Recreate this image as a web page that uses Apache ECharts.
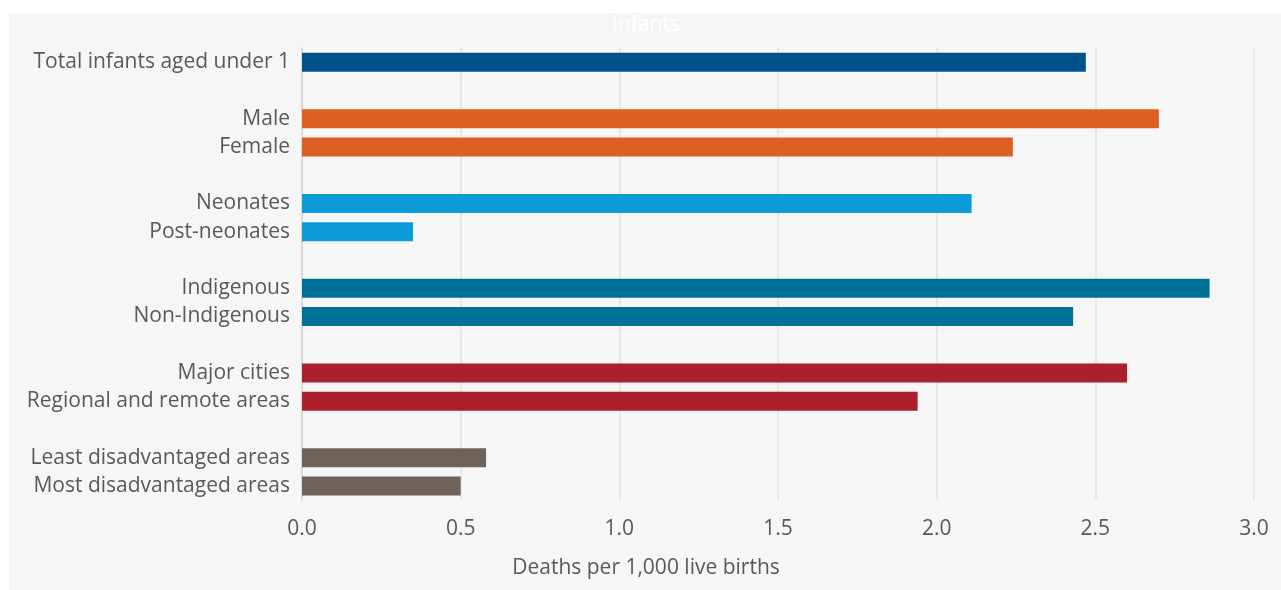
<!DOCTYPE html>
<html>
<head>
<meta charset="utf-8">
<script src="https://cdn.jsdelivr.net/npm/echarts@6/dist/echarts.min.js"></script>
<style>
  html, body { margin: 0; padding: 0; background: #ffffff; }
  #chart { width: 1281px; height: 590px; }
</style>
</head>
<body>
<div id="chart"></div>
<script>
// Infant death rates by population group; blank entries separate the groups
const categories = [
  'Total infants aged under 1', '',
  'Male', 'Female', '',
  'Neonates', 'Post-neonates', '',
  'Indigenous', 'Non-Indigenous', '',
  'Major cities', 'Regional and remote areas', '',
  'Least disadvantaged areas', 'Most disadvantaged areas'
];
const values = [
  2.47, null,
  2.70, 2.24, null,
  2.11, 0.35, null,
  2.86, 2.43, null,
  2.60, 1.94, null,
  0.58, 0.50
];
const groupColors = [
  '#00538a', null,
  '#dc5f23', '#dc5f23', null,
  '#0b9bd8', '#0b9bd8', null,
  '#007196', '#007196', null,
  '#ac1f2c', '#ac1f2c', null,
  '#6e6159', '#6e6159'
];
const xTicks = ['0.0', '0.5', '1.0', '1.5', '2.0', '2.5', '3.0'];
const chartTitle = 'Infants';
const xAxisTitle = 'Deaths per 1,000 live births';

const chart = echarts.init(document.getElementById('chart'), null, { renderer: 'canvas' });
const FONT = '"Open Sans", "Noto Sans", sans-serif';
const TXT = '#595959';

chart.setOption({
  backgroundColor: '#ffffff',
  animation: false,
  graphic: [
    {
      type: 'rect',
      left: 9, top: 13,
      shape: { width: 1272, height: 577 },
      style: { fill: '#f6f6f6' },
      z: -10
    },
    {
      type: 'text',
      x: 646, y: 25,
      style: {
        text: chartTitle, fill: '#ffffff', font: '21px ' + FONT,
        textAlign: 'center', textVerticalAlign: 'middle'
      }
    },
    {
      type: 'text',
      x: 646, y: 568,
      style: {
        text: xAxisTitle, fill: TXT, font: '21px ' + FONT,
        textAlign: 'center', textVerticalAlign: 'middle'
      }
    }
  ],
  grid: { left: 302, right: 27, top: 48, bottom: 90, containLabel: false },
  xAxis: {
    type: 'value',
    min: 0, max: 3, interval: 0.5,
    axisLine: { show: false },
    axisTick: { show: false },
    axisLabel: {
      color: TXT, fontFamily: FONT, fontSize: 21, margin: 19,
      formatter: (v) => xTicks[Math.round(v / 0.5)]
    },
    splitLine: { show: true, lineStyle: { color: '#e2e2e2', width: 1.5 } }
  },
  yAxis: {
    type: 'category',
    inverse: true,
    data: categories,
    axisLine: { show: true, lineStyle: { color: '#d4d4d4', width: 1.5 } },
    axisTick: { show: false },
    axisLabel: { color: TXT, fontFamily: FONT, fontSize: 21, margin: 12, padding: [3, 0, 0, 0] }
  },
  series: [{
    type: 'bar',
    barWidth: 19,
    data: values.map((v, i) => ({
      value: v,
      itemStyle: { color: groupColors[i] || 'transparent' }
    })),
    emphasis: { disabled: true }
  }]
});
</script>
</body>
</html>
